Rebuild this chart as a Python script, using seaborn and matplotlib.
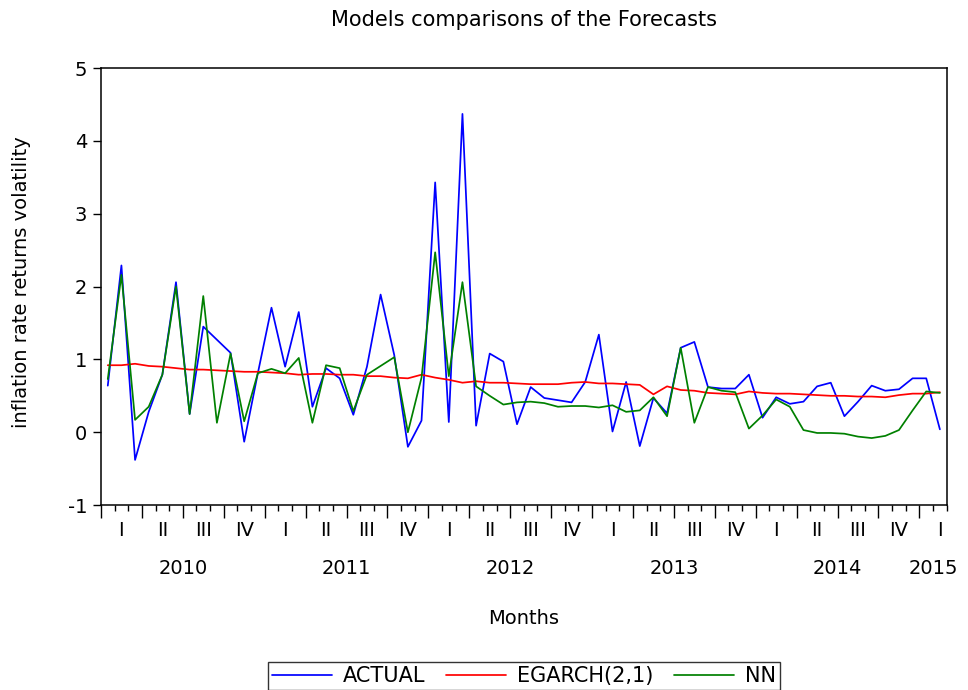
import numpy as np
import pandas as pd
import seaborn as sns
import matplotlib.pyplot as plt
from matplotlib.transforms import blended_transform_factory

# monthly values, Jan 2010 - Feb 2015
actual = [0.64, 2.29, -0.38, 0.28, 0.79, 2.06, 0.25, 1.45, 1.27, 1.09,
          -0.13, 0.81, 1.71, 0.90, 1.65, 0.35, 0.88, 0.74, 0.24, 0.90,
          1.89, 1.06, -0.20, 0.16, 3.43, 0.14, 4.37, 0.09, 1.08, 0.97,
          0.11, 0.62, 0.47, 0.44, 0.41, 0.69, 1.34, 0.01, 0.69, -0.19,
          0.47, 0.26, 1.16, 1.24, 0.62, 0.60, 0.60, 0.79, 0.20, 0.48,
          0.39, 0.42, 0.63, 0.68, 0.22, 0.42, 0.64, 0.57, 0.59, 0.74,
          0.74, 0.04]
egarch = [0.92, 0.92, 0.94, 0.91, 0.90, 0.88, 0.86, 0.86, 0.85, 0.84,
          0.83, 0.83, 0.82, 0.81, 0.79, 0.80, 0.80, 0.79, 0.79, 0.77,
          0.77, 0.75, 0.74, 0.79, 0.75, 0.72, 0.68, 0.70, 0.68, 0.68,
          0.67, 0.66, 0.66, 0.66, 0.68, 0.69, 0.67, 0.67, 0.66, 0.65,
          0.52, 0.63, 0.58, 0.57, 0.54, 0.53, 0.52, 0.56, 0.54, 0.53,
          0.53, 0.52, 0.51, 0.50, 0.50, 0.49, 0.49, 0.48, 0.51, 0.53,
          0.53, 0.55]
nn = [0.73, 2.16, 0.17, 0.35, 0.79, 2.00, 0.25, 1.87, 0.13, 1.08,
      0.15, 0.81, 0.87, 0.81, 1.02, 0.13, 0.92, 0.88, 0.29, 0.79,
      0.91, 1.03, 0.00, 0.75, 2.47, 0.77, 2.06, 0.63, 0.50, 0.38,
      0.41, 0.42, 0.40, 0.35, 0.36, 0.36, 0.34, 0.37, 0.28, 0.30,
      0.48, 0.22, 1.16, 0.13, 0.62, 0.57, 0.55, 0.05, 0.23, 0.45,
      0.35, 0.03, -0.01, -0.01, -0.02, -0.06, -0.08, -0.05, 0.03, 0.30,
      0.56, 0.54]

series_names = ["ACTUAL", "EGARCH(2,1)", "NN"]
quarters = ["I", "II", "III", "IV"]
years = ["2010", "2011", "2012", "2013", "2014", "2015"]

sns.set_theme(style="ticks")
plt.rcParams['font.family'] = ['DejaVu Sans']
plt.rcParams['axes.unicode_minus'] = False
plt.rcParams['text.color'] = 'black'
plt.rcParams['xtick.color'] = 'black'
plt.rcParams['ytick.color'] = 'black'
plt.rcParams['xtick.labelcolor'] = 'black'
plt.rcParams['ytick.labelcolor'] = 'black'

# x = month index, drawn in the middle of each month slot
df = pd.DataFrame({"t": np.arange(len(actual)) + 0.5,
                   series_names[0]: actual,
                   series_names[1]: egarch,
                   series_names[2]: nn})
long_df = df.melt(id_vars="t", var_name="model", value_name="vol")

fig = plt.figure(figsize=(9.68, 6.9), dpi=100)
ax = fig.add_axes([0.1043, 0.268, 0.8737, 0.6334])
sns.lineplot(data=long_df, x="t", y="vol", hue="model", hue_order=series_names,
             palette=["#0000ff", "#ff0000", "#008000"], lw=1.25, ax=ax, legend=False)

n = len(actual)
ax.set_xlim(0, n)
ax.set_ylim(-1, 5)
ax.set_yticks(range(-1, 6))
ax.tick_params(axis="y", labelsize=14, length=6, width=1, color="black",
               labelcolor="black", pad=4)
ax.set_xticks(np.arange(0, n, 3))
ax.set_xticklabels([])
ax.set_xticks(np.arange(0, n + 1), minor=True)
ax.tick_params(axis="x", which="major", length=9, width=1, color="black")
ax.tick_params(axis="x", which="minor", length=4, width=1, color="black")
for s in ax.spines.values():
    s.set_color("black")
    s.set_linewidth(1.1)
ax.set_xlabel("")
ax.set_ylabel("")

# quarter and year labels under the axis
trans = blended_transform_factory(ax.transData, fig.transFigure)
for q in range(int(np.ceil(n / 3))):
    ax.text(3 * q + 1.5, 1 - 530 / 690, quarters[q % 4], transform=trans,
            ha="center", va="center", fontsize=14, color="black")
for k, yr in enumerate(years):
    xpos = 12 * k + 6 if k < len(years) - 1 else n - 1
    ax.text(xpos, 1 - 568 / 690, yr, transform=trans,
            ha="center", va="center", fontsize=14, color="black")

fig.text(22 / 968, 1 - 282 / 690, "inflation rate returns volatility",
         rotation=90, ha="center", va="center", fontsize=14, color="black")
fig.text(0.541, 1 - 618 / 690, "Months", ha="center", va="center",
         fontsize=14, color="black")
fig.text(0.541, 1 - 20 / 690, "Models comparisons of the Forecasts",
         ha="center", va="center", fontsize=15, color="black")

leg = fig.legend(ax.lines[:3], series_names, loc="upper center",
                 bbox_to_anchor=(0.541, 1 - 662 / 690), ncol=3, fontsize=15,
                 frameon=True, fancybox=False, edgecolor="black",
                 handlelength=2.9, handletextpad=0.5, columnspacing=1.0,
                 borderpad=0.2, borderaxespad=0)
leg.get_frame().set_linewidth(1.0)

fig.savefig("out.png", dpi=100)
plt.close(fig)
